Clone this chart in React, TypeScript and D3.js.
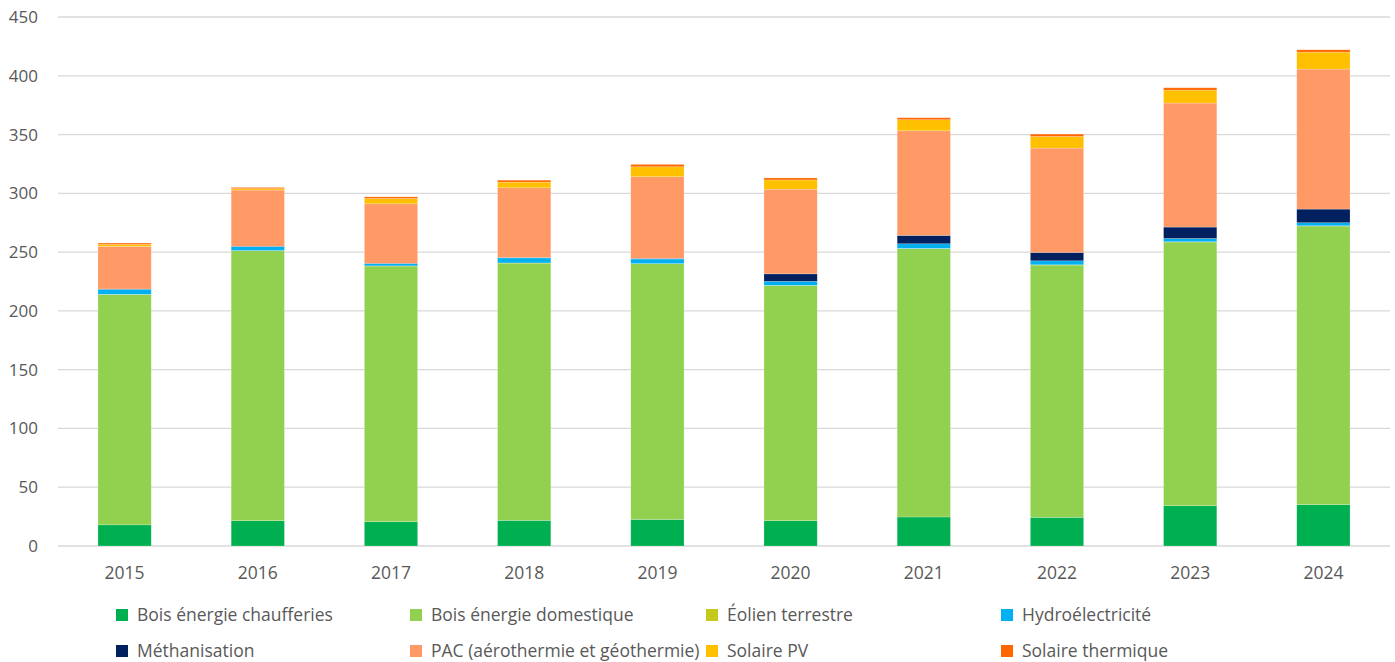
import React from "react";
import * as d3 from "d3";

const years = ["2015", "2016", "2017", "2018", "2019", "2020", "2021", "2022", "2023", "2024"];
const seriesNames = [
  "Bois énergie chaufferies",
  "Bois énergie domestique",
  "Éolien terrestre",
  "Hydroélectricité",
  "Méthanisation",
  "PAC (aérothermie et géothermie)",
  "Solaire PV",
  "Solaire thermique",
];
const seriesColors = ["#00B050", "#92D050", "#C5C91E", "#00B0F0", "#002060", "#FF9966", "#FFC000", "#FF6600"];

const boisChaufferies = [18.0, 21.5, 20.7, 21.8, 22.6, 21.5, 24.7, 24.4, 34.3, 35.2];
const boisDomestique = [196.0, 229.7, 217.5, 218.9, 217.5, 200.1, 228.2, 214.6, 224.3, 237.0];
const eolienTerrestre = [0.1, 0.1, 0.1, 0.1, 0.1, 0.1, 0.2, 0.2, 0.2, 0.2];
const hydroelectricite = [4.3, 3.4, 1.9, 4.3, 4.0, 3.4, 4.0, 3.4, 2.8, 2.6];
const methanisation = [0.2, 0.3, 0.3, 0.3, 0.4, 6.4, 7.1, 7.1, 9.7, 11.6];
const pac = [36.2, 47.8, 50.6, 59.3, 69.5, 72.0, 89.0, 88.8, 105.5, 119.1];
const solairePV = [1.7, 1.2, 4.5, 4.8, 8.5, 7.9, 9.4, 9.9, 11.0, 14.4];
const solaireThermique = [1.2, 1.0, 1.4, 1.7, 2.0, 1.7, 1.7, 2.0, 2.0, 2.0];

const yTicks = [0, 50, 100, 150, 200, 250, 300, 350, 400, 450];

const allSeries = [boisChaufferies, boisDomestique, eolienTerrestre, hydroelectricite, methanisation, pac, solairePV, solaireThermique];

const W = 1395;
const H = 662;
const FONT = "'Open Sans', sans-serif";

export default function App() {
  const x = d3.scaleBand<string>().domain(years).range([58, 1390]).paddingInner(0.6).paddingOuter(0.3);
  const y = d3.scaleLinear().domain([0, 450]).range([546, 17]);

  const rows = years.map((yr, i) => {
    const r: Record<string, number | string> = { year: yr };
    seriesNames.forEach((n, k) => (r[n] = allSeries[k][i]));
    return r;
  });
  const stacked = d3.stack<Record<string, number | string>>().keys(seriesNames)(rows as any);

  const legendCols = [122, 416, 712, 1007];
  const legendRows = [615, 651];

  return (
    <div style={{ position: "absolute", left: 0, top: 0 }}>
      <svg width={W} height={H} style={{ display: "block", background: "#fff" }}>
        {yTicks.map((t) => (
          <g key={t}>
            <line x1={58} x2={1390} y1={y(t)} y2={y(t)} stroke="#d9d9d9" strokeWidth={1.3} />
            <text x={38} y={y(t)} dy="0.35em" textAnchor="end" fontFamily={FONT} fontSize={17} fill="#595959">
              {t}
            </text>
          </g>
        ))}
        {stacked.map((s, k) => (
          <g key={seriesNames[k]} fill={seriesColors[k]}>
            {s.map((d, i) => (
              <rect
                key={i}
                x={x(years[i])}
                width={x.bandwidth()}
                y={y(d[1])}
                height={Math.max(0, y(d[0]) - y(d[1]))}
                stroke="#ffffff"
                strokeOpacity={0.35}
                strokeWidth={0.6}
              />
            ))}
          </g>
        ))}
        {years.map((yr) => (
          <text key={yr} x={(x(yr) as number) + x.bandwidth() / 2} y={573} dy="0.35em" textAnchor="middle" fontFamily={FONT} fontSize={17.5} fill="#595959">
            {yr}
          </text>
        ))}
        {seriesNames.map((n, k) => {
          const cx = legendCols[k % 4];
          const cy = legendRows[Math.floor(k / 4)];
          return (
            <g key={n}>
              <rect x={cx - 6} y={cy - 6} width={12} height={12} fill={seriesColors[k]} />
              <text x={cx + 15} y={cy} dy="0.35em" fontFamily={FONT} fontSize={17.5} fill="#595959">
                {n}
              </text>
            </g>
          );
        })}
      </svg>
    </div>
  );
}
